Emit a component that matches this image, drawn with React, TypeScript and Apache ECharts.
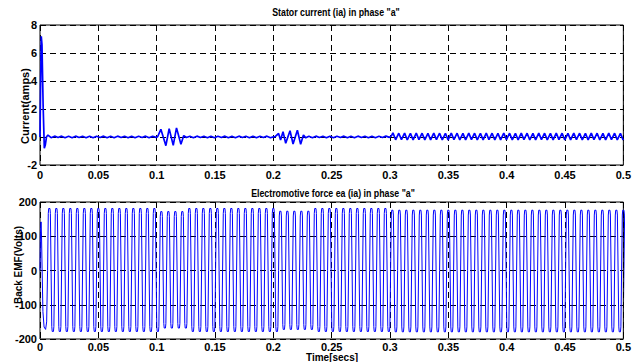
import React, { useEffect, useRef } from "react";
import * as echarts from "echarts";

// ---------- axes ----------
const timeMin = 0;
const timeMax = 0.5;
const timeStep = 0.05;
const currentMin = -2;
const currentMax = 8;
const currentStep = 2;
const emfMin = -200;
const emfMax = 200;
const emfStep = 100;

// ---------- texts ----------
const titleTop = 'Stator current (ia) in phase "a"';
const titleBottom = 'Electromotive force ea (ia) in phase "a"';
const yNameTop = "Current(amps)";
const yNameBottom = "Back EMF(Volts)";
const xName = "Time[secs]";

// ---------- stator current ia (A) ----------
const currentStartup: [number, number][] = [
  [0, 0], [0.0005, 3.6], [0.0011, 7.2], [0.0017, 6.6], [0.0027, 2.2], [0.0037, -0.8],
  [0.0046, -0.55], [0.0056, 0.02], [0.0068, 0.13], [0.0082, 0.04],
];
const currentRipple1: [number, number][] = [
  [0.0095, -0.05], [0.0125, 0.06], [0.0155, -0.04], [0.0185, 0.06], [0.0215, -0.05], [0.0245, 0.05],
  [0.0275, -0.05], [0.0305, 0.06], [0.0335, -0.04], [0.0365, 0.05], [0.0395, -0.05], [0.0425, 0.06],
  [0.0455, -0.05], [0.0485, 0.05], [0.0515, -0.04], [0.0545, 0.06], [0.0575, -0.05], [0.0605, 0.05],
  [0.0635, -0.05], [0.0665, 0.06], [0.0695, -0.04], [0.0725, 0.05], [0.0755, -0.05], [0.0785, 0.06],
  [0.0815, -0.05], [0.0845, 0.05], [0.0875, -0.04], [0.0905, 0.06], [0.0935, -0.05], [0.0965, 0.05],
  [0.0995, -0.03],
];
const currentLoadStep1: [number, number][] = [
  [0.1008, 0.02], [0.1036, 0.55], [0.1079, -0.62], [0.1107, 0.6], [0.1142, -0.6], [0.117, 0.65],
  [0.1208, -0.52], [0.1232, 0.1], [0.1255, -0.04],
];
const currentRipple2: [number, number][] = [
  [0.1285, 0.05], [0.1315, -0.05], [0.1345, 0.06], [0.1375, -0.04], [0.1405, 0.05], [0.1435, -0.05],
  [0.1465, 0.06], [0.1495, -0.05], [0.1525, 0.05], [0.1555, -0.04], [0.1585, 0.06], [0.1615, -0.05],
  [0.1645, 0.05], [0.1675, -0.05], [0.1705, 0.06], [0.1735, -0.04], [0.1765, 0.05], [0.1795, -0.05],
  [0.1825, 0.06], [0.1855, -0.05], [0.1885, 0.05], [0.1915, -0.04], [0.1945, 0.06], [0.1975, -0.05],
  [0.2, 0.01],
];
const currentLoadStep2: [number, number][] = [
  [0.2015, 0.02], [0.2045, 0.25], [0.2062, -0.22], [0.2083, 0.38], [0.2106, -0.45], [0.2143, 0.45],
  [0.2169, -0.5], [0.2206, 0.48], [0.2234, -0.52], [0.2258, 0.14], [0.2278, -0.06],
];
const currentRipple3: [number, number][] = [
  [0.2305, 0.05], [0.2335, -0.05], [0.2365, 0.06], [0.2395, -0.04], [0.2425, 0.05], [0.2455, -0.05],
  [0.2485, 0.06], [0.2515, -0.05], [0.2545, 0.05], [0.2575, -0.04], [0.2605, 0.06], [0.2635, -0.05],
  [0.2665, 0.05], [0.2695, -0.05], [0.2725, 0.06], [0.2755, -0.04], [0.2785, 0.05], [0.2815, -0.05],
  [0.2845, 0.06], [0.2875, -0.05], [0.2905, 0.05], [0.2935, -0.04], [0.2965, 0.06], [0.2995, -0.03],
];
const currentLoadRipple: [number, number][] = [
  [0.3012, 0.08], [0.3025, 0.3], [0.3048, -0.2],
  [0.3075, 0.27], [0.3098, -0.19], [0.3125, 0.28], [0.3148, -0.21], [0.3175, 0.26], [0.3198, -0.2],
  [0.3225, 0.28], [0.3248, -0.19], [0.3275, 0.27], [0.3298, -0.21], [0.3325, 0.26], [0.3348, -0.2],
  [0.3375, 0.28], [0.3398, -0.19], [0.3425, 0.27], [0.3448, -0.21], [0.3475, 0.26], [0.3498, -0.2],
  [0.3525, 0.28], [0.3548, -0.19], [0.3575, 0.27], [0.3598, -0.21], [0.3625, 0.26], [0.3648, -0.2],
  [0.3675, 0.28], [0.3698, -0.19], [0.3725, 0.27], [0.3748, -0.21], [0.3775, 0.26], [0.3798, -0.2],
  [0.3825, 0.28], [0.3848, -0.19], [0.3875, 0.27], [0.3898, -0.21], [0.3925, 0.26], [0.3948, -0.2],
  [0.3975, 0.28], [0.3998, -0.19], [0.4025, 0.27], [0.4048, -0.21], [0.4075, 0.26], [0.4098, -0.2],
  [0.4125, 0.28], [0.4148, -0.19], [0.4175, 0.27], [0.4198, -0.21], [0.4225, 0.26], [0.4248, -0.2],
  [0.4275, 0.28], [0.4298, -0.19], [0.4325, 0.27], [0.4348, -0.21], [0.4375, 0.26], [0.4398, -0.2],
  [0.4425, 0.28], [0.4448, -0.19], [0.4475, 0.27], [0.4498, -0.21], [0.4525, 0.26], [0.4548, -0.2],
  [0.4575, 0.28], [0.4598, -0.19], [0.4625, 0.27], [0.4648, -0.21], [0.4675, 0.26], [0.4698, -0.2],
  [0.4725, 0.28], [0.4748, -0.19], [0.4775, 0.27], [0.4798, -0.21], [0.4825, 0.26], [0.4848, -0.2],
  [0.4875, 0.28], [0.4898, -0.19], [0.4925, 0.27], [0.4948, -0.21], [0.4975, 0.26], [0.4998, -0.2],
  [0.5, -0.15],
];

// ---------- back EMF ea (V) ----------
const emfStartup: [number, number][] = [
  [0, 0], [0.0004, 110], [0.0009, 142], [0.0013, 100], [0.0025, -120], [0.0035, -165],
  [0.0048, -172], [0.0057, -150],
];
// rising zero crossings of each electrical cycle (s)
const emfCycleStarts = [
  0.0065, 0.0125, 0.0185, 0.0245, 0.0305, 0.0365, 0.0425, 0.0485, 0.0545, 0.0605,
  0.0665, 0.0725, 0.0785, 0.0845, 0.0905, 0.0965, 0.1025, 0.1085, 0.1145, 0.1205,
  0.1265, 0.1325, 0.1385, 0.1445, 0.1505, 0.1565, 0.1625, 0.1685, 0.1745, 0.1805,
  0.1865, 0.1925, 0.1985, 0.2045, 0.2105, 0.2165, 0.2225, 0.2285, 0.2345, 0.2405,
  0.2465, 0.2525, 0.2585, 0.2645, 0.2705, 0.2765, 0.2825, 0.2885, 0.2945, 0.3005,
  0.3065, 0.3125, 0.3185, 0.3245, 0.3305, 0.3365, 0.3425, 0.3485, 0.3545, 0.3605,
  0.3665, 0.3725, 0.3785, 0.3845, 0.3905, 0.3965, 0.4025, 0.4085, 0.4145, 0.4205,
  0.4265, 0.4325, 0.4385, 0.4445, 0.4505, 0.4565, 0.4625, 0.4685, 0.4745, 0.4805,
  0.4865, 0.4925, 0.4985,
];
// [from, to, positive plateau, negative plateau]
const emfLevels: [number, number, number, number][] = [
  [0, 0.1, 181, -178],
  [0.1, 0.123, 172, -168],
  [0.123, 0.2, 181, -178],
  [0.2, 0.232, 173, -172],
  [0.232, 0.3, 181, -178],
  [0.3, 0.6, 176, -179],
];

function buildEmf(): [number, number][] {
  const pts: [number, number][] = [...emfStartup];
  emfCycleStarts.forEach((s, i) => {
    const next = i + 1 < emfCycleStarts.length ? emfCycleStarts[i + 1] : s + (s - emfCycleStarts[i - 1]);
    const p = next - s;
    const lvl = emfLevels.find(([a, b]) => s >= a && s < b) || emfLevels[emfLevels.length - 1];
    const top = lvl[2];
    const bot = lvl[3];
    pts.push(
      [s, 0],
      [s + 0.1 * p, 0.92 * top],
      [s + 0.16 * p, top],
      [s + 0.34 * p, top],
      [s + 0.4 * p, 0.92 * top],
      [s + 0.5 * p, 0],
      [s + 0.6 * p, 0.92 * bot],
      [s + 0.66 * p, bot],
      [s + 0.84 * p, bot],
      [s + 0.9 * p, 0.92 * bot]
    );
  });
  return pts;
}

const FONT = '"Liberation Sans Narrow", "Arial Narrow", "Liberation Sans", Arial, sans-serif';

export default function App() {
  const ref = useRef<HTMLDivElement>(null);
  useEffect(() => {
    if (!ref.current) return;
    const chart = echarts.init(ref.current, undefined, { renderer: "svg" });
    const currentData = [
      ...currentStartup,
      ...currentRipple1,
      ...currentLoadStep1,
      ...currentRipple2,
      ...currentLoadStep2,
      ...currentRipple3,
      ...currentLoadRipple,
    ];
    const emfData = buildEmf();
    const grid = [
      { left: 40, right: 10, top: 25, height: 140 },
      { left: 40, right: 10, top: 202, height: 137 },
    ].map((g) => ({ ...g, show: true, borderColor: "#000", borderWidth: 1, backgroundColor: "transparent" }));
    const splitLine = { show: true, lineStyle: { color: "#000", width: 1, type: [6, 4] as any } };
    const axisLabel = {
      color: "#000",
      fontWeight: "bold" as const,
      fontSize: 11,
      fontFamily: FONT,
    };
    const fmtT = (v: number) => String(+v.toFixed(2));
    const xAxisBase = {
      type: "value" as const,
      min: timeMin,
      max: timeMax,
      interval: timeStep,
      axisLine: { show: false },
      axisTick: { show: false },
      splitLine,
    };
    chart.setOption({
      animation: false,
      grid,
      xAxis: [
        { ...xAxisBase, gridIndex: 0, axisLabel: { ...axisLabel, margin: 4, formatter: fmtT, showMinLabel: true, showMaxLabel: true } },
        { ...xAxisBase, gridIndex: 1, axisLabel: { ...axisLabel, margin: 2, lineHeight: 11, formatter: fmtT, showMinLabel: true, showMaxLabel: true } },
      ],
      yAxis: [
        {
          type: "value",
          gridIndex: 0,
          min: currentMin,
          max: currentMax,
          interval: currentStep,
          axisLine: { show: false },
          axisTick: { show: false },
          splitLine,
          axisLabel: { ...axisLabel, margin: 3 },
        },
        {
          type: "value",
          gridIndex: 1,
          min: emfMin,
          max: emfMax,
          interval: emfStep,
          axisLine: { show: false },
          axisTick: { show: false },
          splitLine,
          axisLabel: { ...axisLabel, margin: 3 },
        },
      ],
      series: [
        {
          type: "line",
          xAxisIndex: 0,
          yAxisIndex: 0,
          data: currentData,
          showSymbol: false,
          symbol: "none",
          lineStyle: { color: "#0000ff", width: 1.7 },
          z: 5,
        },
        {
          type: "line",
          xAxisIndex: 1,
          yAxisIndex: 1,
          data: emfData,
          showSymbol: false,
          symbol: "none",
          lineStyle: { color: "#0000ff", width: 1 },
          z: 5,
        },
      ],
      graphic: [
        {
          type: "text",
          x: 336,
          y: 12,
          scaleX: 0.8,
          style: { text: titleTop, font: `bold 11px ${FONT}`, fill: "#000", textAlign: "center", textVerticalAlign: "middle" },
        },
        {
          type: "text",
          x: 333,
          y: 193,
          scaleX: 0.8,
          style: { text: titleBottom, font: `bold 11px ${FONT}`, fill: "#000", textAlign: "center", textVerticalAlign: "middle" },
        },
        {
          type: "text",
          x: 25,
          y: 106,
          rotation: Math.PI / 2,
          style: { text: yNameTop, font: `bold 11px ${FONT}`, fill: "#000", textAlign: "center", textVerticalAlign: "middle" },
        },
        {
          type: "text",
          x: 18,
          y: 265,
          rotation: Math.PI / 2,
          style: { text: yNameBottom, font: `bold 10px ${FONT}`, fill: "#000", textAlign: "center", textVerticalAlign: "middle" },
        },
        {
          type: "text",
          x: 332,
          y: 357,
          style: { text: xName, font: `bold 10px ${FONT}`, lineHeight: 10, fill: "#000", textAlign: "center", textVerticalAlign: "middle" },
        },
      ],
    });
    return () => chart.dispose();
  }, []);
  return <div ref={ref} style={{ width: 634, height: 362, position: "absolute", left: 0, top: 0, background: "#fff" }} />;
}
